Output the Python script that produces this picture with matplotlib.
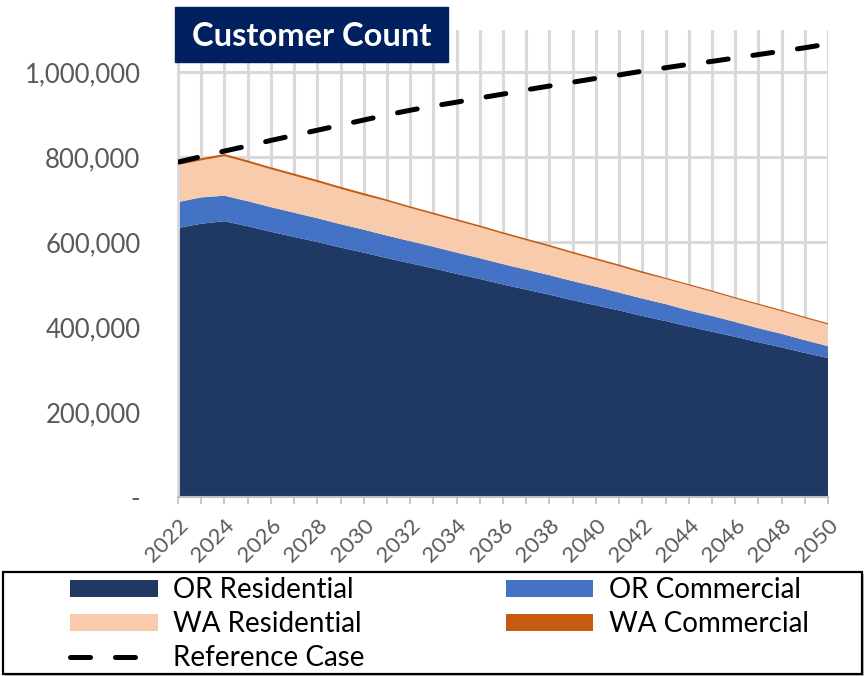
import matplotlib.pyplot as plt
from matplotlib.patches import Rectangle
from matplotlib.ticker import FuncFormatter, MultipleLocator

# Données (milliers de clients)
years = list(range(2022, 2051))
or_residential = [633, 643, 649, 637, 624, 612, 600, 587, 575, 562, 550, 538, 525, 513, 500,
                  488, 476, 463, 451, 439, 426, 414, 401, 389, 377, 364, 352, 339, 327]
or_commercial = [61, 62, 60, 59, 58, 57, 56, 55, 54, 53, 52, 51, 50, 49, 48,
                 47, 46, 45, 44, 42, 41, 40, 38, 37, 35, 33, 32, 30, 28]
wa_residential = [87, 87, 93, 91, 89, 87, 85, 83, 81, 81, 78, 76, 75, 73, 71,
                  69, 67, 65, 63, 62, 60, 59, 59, 57, 55, 55, 53, 52, 51]
wa_commercial = [5, 5, 5, 5, 5, 5, 5, 5, 5, 4, 4, 4, 4, 4, 4,
                 4, 4, 4, 4, 4, 4, 3, 3, 3, 3, 3, 3, 3, 3]
reference_case = [788, 801, 814, 826, 839, 851, 863, 875, 887, 899, 910, 920, 929, 939, 948,
                  958, 967, 976, 985, 993, 1002, 1010, 1018, 1025, 1033, 1041, 1049, 1057, 1066]

labels = ['OR Residential', 'OR Commercial', 'WA Residential', 'WA Commercial']
colors = ['#1f3864', '#4472c4', '#f8cbad', '#c55a11']

plt.rcParams['font.family'] = ['Lato', 'DejaVu Sans']

W, H = 864, 676
fig = plt.figure(figsize=(W / 100, H / 100), dpi=100)
ax = fig.add_axes([178 / W, 1 - 497 / H, (828 - 178) / W, (497 - 29.5) / H])

series = [[v * 1000 for v in s] for s in [or_residential, or_commercial, wa_residential, wa_commercial]]
ax.stackplot(years, *series, colors=colors, labels=labels, zorder=2, linewidth=0)
ax.plot(years, [v * 1000 for v in reference_case], color='black', lw=3.6,
        dashes=(4, 5), dash_capstyle='round', zorder=4, label='Reference Case')

ax.set_xlim(2022, 2050)
ax.set_ylim(0, 1_100_000)
ax.xaxis.set_major_locator(MultipleLocator(2))
ax.xaxis.set_minor_locator(MultipleLocator(1))
ax.yaxis.set_major_locator(MultipleLocator(200_000))
ax.yaxis.set_major_formatter(FuncFormatter(lambda v, p: '-' if v == 0 else f'{v:,.0f}'))

ax.grid(True, which='both', axis='x', color='#d9d9d9', lw=2.2, zorder=0)
ax.grid(True, which='major', axis='y', color='#d9d9d9', lw=2.2, zorder=0)
ax.set_axisbelow(True)

for s in ['top', 'right']:
    ax.spines[s].set_visible(False)
ax.spines['left'].set_color('#d9d9d9')
ax.spines['left'].set_linewidth(2)
ax.spines['bottom'].set_color('#bfbfbf')
ax.spines['bottom'].set_linewidth(1.5)

ax.tick_params(axis='y', length=0, pad=27, labelsize=18.5, labelcolor='#595959')
ax.tick_params(axis='x', which='both', direction='out', length=5, color='#bfbfbf', width=1.2)
ax.tick_params(axis='x', which='major', labelsize=16, labelcolor='#595959', pad=8)
for t in ax.get_xticklabels():
    t.set_rotation(45)
    t.set_ha('right')
    t.set_va('top')
    t.set_rotation_mode('anchor')

# Titre dans un bandeau
fig.patches.append(Rectangle((175 / W, 1 - 62 / H), (448 - 175) / W, 55 / H,
                             transform=fig.transFigure, color='#002060', zorder=5))
fig.text((175 + 448) / 2 / W, 1 - 36 / H, 'Customer Count', color='white', fontsize=23.5,
         fontweight='bold', ha='center', va='center', zorder=6)

# Cadre de légende
fig.patches.append(Rectangle((5 / W, 1 - 678 / H), 866 / W, 104 / H, transform=fig.transFigure,
                             facecolor='#bfbfbf', edgecolor='none', zorder=1))
fig.patches.append(Rectangle((3 / W, 1 - 674 / H), 859 / W, 102 / H, transform=fig.transFigure,
                             facecolor='white', edgecolor='black', lw=1.6, zorder=2))

handles, lbls = ax.get_legend_handles_labels()
hmap = dict(zip(lbls, handles))
order = ['OR Residential', 'WA Residential', 'Reference Case', 'OR Commercial', 'WA Commercial']
leg = fig.legend([hmap[k] for k in order], order, loc='upper left',
                 bbox_to_anchor=(70 / W, 1 - 577 / H), ncol=2, frameon=False, fontsize=20,
                 handlelength=3.15, handleheight=0.58, handletextpad=0.55, columnspacing=5.1,
                 labelspacing=0.29, borderpad=0, borderaxespad=0)
leg.set_zorder(3)

plt.savefig('out.png', dpi=100)
plt.close()
